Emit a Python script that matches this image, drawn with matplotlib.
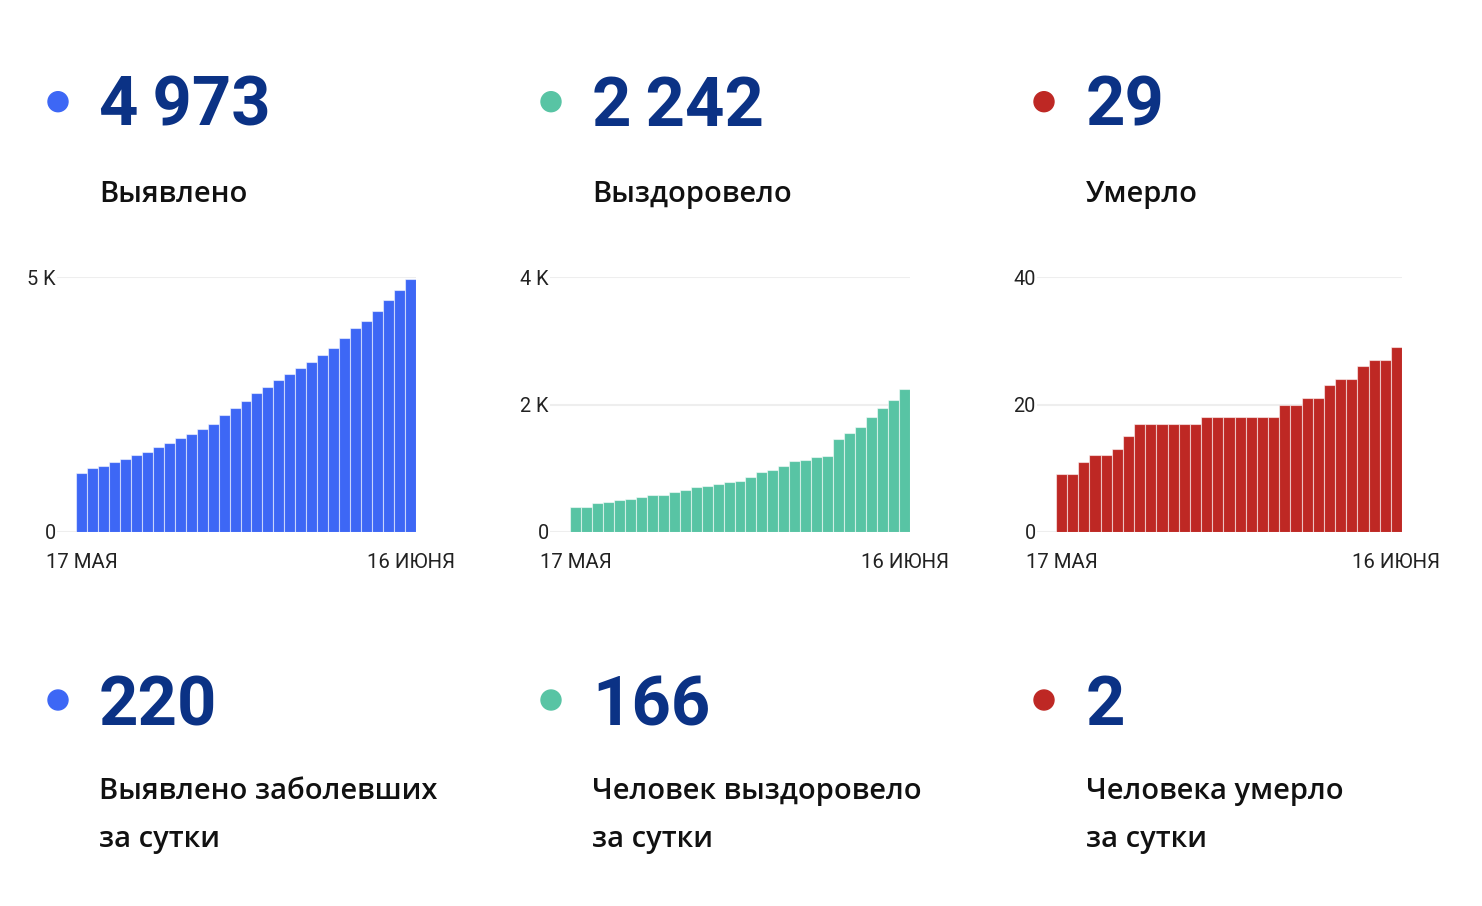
import numpy as np
from matplotlib import pyplot as plt
from matplotlib.patches import Ellipse

W, H = 1482, 906

# cumulative series, 17 May - 16 June
cases = [1160, 1245, 1297, 1370, 1422, 1507, 1560, 1658, 1750, 1835, 1920, 2018,
         2123, 2294, 2425, 2575, 2726, 2838, 2982, 3093, 3224, 3336, 3467, 3617,
         3807, 3997, 4148, 4332, 4561, 4751, 4973]
recovered = [383, 388, 446, 472, 498, 514, 540, 572, 582, 630, 661, 708, 724, 745,
             782, 803, 866, 934, 976, 1039, 1107, 1123, 1180, 1196, 1464, 1553,
             1653, 1800, 1941, 2067, 2242]
deaths = [9, 9, 11, 12, 12, 13, 15, 17, 17, 17, 17, 17, 17, 18, 18, 18, 18, 18, 18,
          18, 20, 20, 21, 21, 23, 24, 24, 26, 27, 27, 29]
date_labels = ["17 МАЯ", "16 ИЮНЯ"]

totals = ["4\u2009973", "2\u2009242", "29"]
total_labels = ["Выявлено", "Выздоровело", "Умерло"]
daily = ["220", "166", "2"]
daily_labels = [["Выявлено заболевших", "за сутки"],
                ["Человек выздоровело", "за сутки"],
                ["Человека умерло", "за сутки"]]

yticks = [[0, 5000], [0, 2000, 4000], [0, 20, 40]]
ytick_labels = [["0", "5 K"], ["0", "2 K", "4 K"], ["0", "20", "40"]]

colors = ["#3d67f5", "#58c4a4", "#be2824"]
navy = "#0b3285"

plt.rcParams["font.family"] = ["Roboto", "DejaVu Sans"]
label_font = ["Open Sans", "Roboto", "DejaVu Sans"]

fig = plt.figure(figsize=(W / 100, H / 100), dpi=100)

def fx(px):
    return px / W

def fy(py):
    return 1 - py / H

col_dot = [58, 551, 1044]
col_text = [99, 592, 1086]
# axes boxes in pixels
ax_left = [57, 550, 1037]
ax_right = [416, 910, 1402]
bar_start = [76, 570, 1056]
ax_top, ax_bottom = 277.3, 531.7

series = [cases, recovered, deaths]

for i in range(3):
    # top block
    fig.patches.append(Ellipse((fx(col_dot[i]), fy(101.7)), 20 / W, 20 / H, color=colors[i],
                               transform=fig.transFigure, figure=fig))
    fig.text(fx(col_text[i]), fy(126), totals[i], fontsize=49.5, fontweight="bold",
             color=navy, va="baseline", ha="left")
    fig.text(fx(col_text[i]), fy(202), total_labels[i], family=label_font, fontsize=21,
             fontweight="semibold", color="#111111", va="baseline", ha="left")

    # bottom block
    fig.patches.append(Ellipse((fx(col_dot[i]), fy(700)), 20 / W, 20 / H, color=colors[i],
                               transform=fig.transFigure, figure=fig))
    fig.text(fx(col_text[i]), fy(725), daily[i], fontsize=49.5, fontweight="bold",
             color=navy, va="baseline", ha="left")
    for j, line in enumerate(daily_labels[i]):
        fig.text(fx(col_text[i]), fy(799 + 48 * j), line, family=label_font, fontsize=21,
                 fontweight="semibold", color="#111111", va="baseline", ha="left")

    # bar chart
    vals = series[i]
    n = len(vals)
    unit = (ax_right[i] - bar_start[i]) / n
    gap = (bar_start[i] - ax_left[i]) / unit
    ax = fig.add_axes([fx(ax_left[i]), fy(ax_bottom), fx(ax_right[i] - ax_left[i]),
                       (ax_bottom - ax_top) / H])
    ax.bar(np.arange(n), vals, width=1.0, color=colors[i],
           edgecolor=(1, 1, 1, 0.55), linewidth=0.8, zorder=3)
    ax.set_xlim(-0.5 - gap, n - 0.5)
    ax.set_ylim(0, yticks[i][-1])
    ax.set_yticks(yticks[i])
    ax.set_yticklabels(ytick_labels[i], fontsize=14.3, color="#222222")
    ax.set_xticks([0, n - 1])
    ax.set_xticklabels(date_labels, fontsize=14.7, color="#222222")
    ax.tick_params(axis="y", length=0, pad=1)
    ax.tick_params(axis="x", length=0, pad=15)
    ax.grid(axis="y", color="#eeeeee", linewidth=1.5, zorder=0)
    for s in ax.spines.values():
        s.set_visible(False)

fig.savefig("out.png", dpi=100, facecolor="white")
